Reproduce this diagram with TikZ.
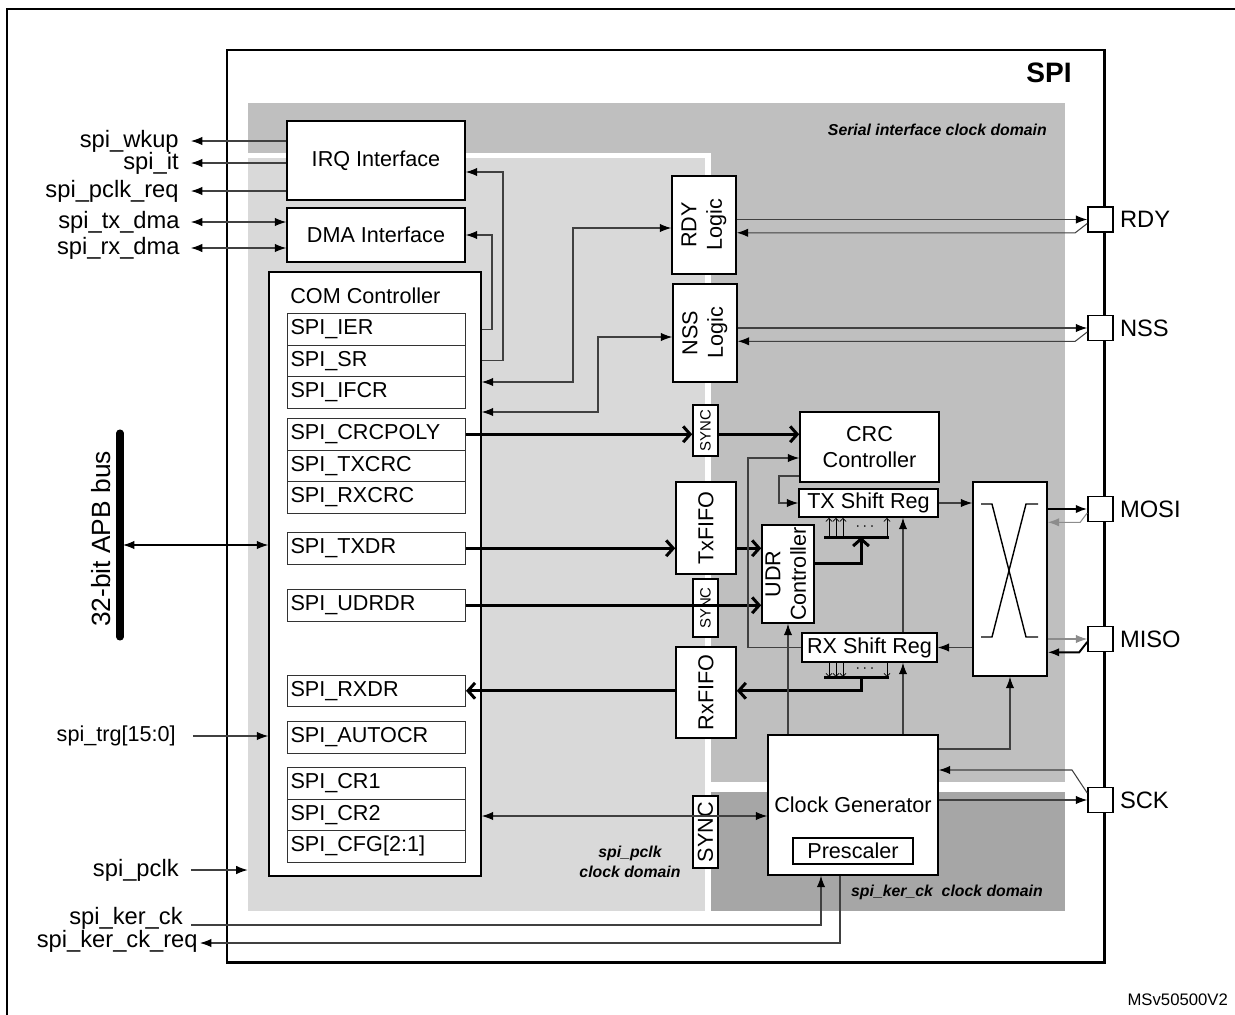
\documentclass[tikz,border=0pt]{standalone}
\usepackage{fontspec}
\setmainfont{Liberation Sans}
\usepackage{xcolor}
\definecolor{serialgray}{gray}{0.75}
\definecolor{pclkgray}{gray}{0.85}
\definecolor{kergray}{gray}{0.65}
\definecolor{wiregray}{gray}{0.25}
\definecolor{palewire}{gray}{0.55}
\usepackage{graphicx}
\usepackage{tikz}
\usetikzlibrary{positioning, calc, fit, arrows.meta}
\newcommand{\blkfont}{\fontsize{12.3}{14.5}\selectfont}
\newcommand{\sigfont}{\fontsize{13.5}{15}\selectfont}
\newcommand{\domfont}{\fontsize{9}{11}\selectfont\bfseries\itshape}
\newcommand{\vtext}[1]{\rotatebox{90}{\begin{tabular}{@{}c@{}}#1\end{tabular}}}
\tikzstyle{block}=[rectangle, draw=black, fill=white, line width=0.9pt, inner sep=0pt]
\tikzstyle{blabel}=[font=\blkfont, align=center, inner sep=0pt]
\tikzstyle{register}=[rectangle, draw=black!80, fill=white, line width=0.6pt, anchor=north west, text width=3.44cm, inner xsep=0.06cm, inner ysep=0pt, minimum height=0.63cm, font=\blkfont]
\tikzstyle{padbox}=[rectangle, draw=black, fill=white, line width=0.9pt, minimum size=0.5cm, inner sep=0pt, label distance=4pt]
\tikzstyle{signal}=[font=\sigfont, anchor=east, inner sep=0pt]
\tikzstyle{wire}=[line width=0.6pt, draw=wiregray, -{Latex[length=6.5pt,width=4.8pt,color=black]}]
\tikzstyle{wire2}=[line width=0.6pt, draw=wiregray, {Latex[length=6.5pt,width=4.8pt,color=black]}-{Latex[length=6.5pt,width=4.8pt,color=black]}]
\tikzstyle{palearrow}=[line width=0.6pt, draw=palewire, -{Latex[length=6.5pt,width=4.8pt]}]
\tikzstyle{datapath}=[line width=1.7pt, -{Straight Barb[length=4pt,width=9pt]}]
\tikzstyle{bitarrow}=[line width=0.4pt, -{Straight Barb[length=1.8pt,width=3.5pt]}]
\tikzset{blocktext/.style={label={[blabel]center:{#1}}},
	synctext/.style={label={[blabel, font=\fontsize{8.5}{10}\selectfont]center:{\rotatebox{90}{#1}}}}}

\begin{document}
\begin{tikzpicture}[x=0.02cm, y=-0.02cm]
	\useasboundingbox (0,0) rectangle (1235,1015);

	\draw[line width=0.9pt] (7,1015) -- (7,9) -- (1235,9);
	\draw[line width=1.7pt] (227,50) rectangle (1104,962);

	% clock domains
	\node[fit={(248,103) (1065,782)}, fill=serialgray, inner sep=0pt] (serialdom) {};
	\node[fit={(711,792) (1065,911)}, fill=kergray, inner sep=0pt] (kerdom) {};
	\fill[white] (248,153) rectangle (711,911);
	\node[fit={(248,158) (705,911)}, fill=pclkgray, inner sep=0pt] (pclkdom) {};

	\node[font=\fontsize{16}{18}\selectfont\bfseries, anchor=east] (spilbl) at (1078,73) {SPI};
	\node[font=\domfont, anchor=east] (seriallbl) at (1053,130) {Serial interface clock domain};
	\node[font=\domfont, align=center] (pclklbl) at (630,862) {spi\_pclk\\clock domain};
	\node[font=\domfont, anchor=east] (kerlbl) at (1049,892) {spi\_ker\_ck\ \ clock domain};

	% blocks
	\node[block, fit={(287,121) (465,200)}, blocktext={IRQ Interface}] (irq) {};
	\node[block, fit={(287,208) (465,262)}, blocktext={DMA Interface}] (dma) {};
	\node[block, fit={(269,272) (481,876)}] (com) {};
	\node[font=\blkfont, anchor=west, inner sep=0pt] (comlbl) at (290,296) {COM Controller};
	\foreach \nm/\txt/\ty in {ier/SPI\_IER/313, sr/SPI\_SR/344.5, ifcr/SPI\_IFCR/376,
		crcpoly/SPI\_CRCPOLY/418, txcrc/SPI\_TXCRC/449.5, rxcrc/SPI\_RXCRC/481,
		txdr/SPI\_TXDR/532, udrdr/SPI\_UDRDR/589, rxdr/SPI\_RXDR/674.5, autocr/SPI\_AUTOCR/721,
		cr1/SPI\_CR1/767, cr2/SPI\_CR2/798.5, cfg/SPI\_CFG[2:1]/830}
		\node[register] (\nm) at (287,\ty) {\txt};

	\node[block, fit={(672,176) (736,274)}, blocktext={\vtext{RDY\\Logic}}] (rdy) {};
	\node[block, fit={(673,284) (737,382)}, blocktext={\vtext{NSS\\Logic}}] (nss) {};
	\node[block, fit={(693,405) (718,456)}, synctext=SYNC] (synccrc) {};
	\node[block, fit={(800,412) (939,482)}, blocktext={CRC\\Controller}] (crc) {};
	\node[block, fit={(799,489) (938,517)}, blocktext={TX Shift Reg}] (txsr) {};
	\node[block, fit={(676,482) (736,574)}, blocktext={\rotatebox{90}{TxFIFO}}] (txfifo) {};
	\node[block, fit={(693,579) (718,637)}, synctext=SYNC] (syncudr) {};
	\node[block, fit={(762,525) (814,623)}, blocktext={\vtext{UDR\\Controller}}] (udr) {};
	\node[block, fit={(676,647) (736,738)}, blocktext={\rotatebox{90}{RxFIFO}}] (rxfifo) {};
	\node[block, fit={(802,633) (937,662)}, blocktext={RX Shift Reg}] (rxsr) {};
	\node[block, fit={(973,482) (1047,676)}] (xbar) {};
	\node[block, fit={(768,735) (938,875)}] (clk) {};
	\node[blabel] (clklbl) at (853,805) {Clock Generator};
	\node[block, fit={(793,838) (913,864)}, blocktext={Prescaler}] (presc) {};
	\node[block, fit={(693,796) (718,868)}, blocktext={\rotatebox{90}{SYNC}}] (syncclk) {};

	\draw[line width=0.8pt] (981,504) -- (992,504) -- (1026,637) -- (1038,637);
	\draw[line width=0.8pt] (1038,504) -- (1026,504) -- (992,637) -- (981,637);

	% interrupt and dma signals
	\foreach \nm/\txt/\sy in {wkup/spi\_wkup/141, it/spi\_it/163, pclkreq/spi\_pclk\_req/191}{
		\node[signal] (\nm) at (179,\sy) {\txt};
		\draw[wire, shorten >=6.8pt] (irq.west |- \nm) -- (\nm.east);
	}
	\foreach \nm/\txt/\sy in {txdma/spi\_tx\_dma/222, rxdma/spi\_rx\_dma/248}{
		\node[signal] (\nm) at (180,\sy) {\txt};
		\draw[wire2, shorten >=6.2pt] (dma.west |- \nm) -- (\nm.east);
	}
	\draw[wire] (com.east |- sr) -| (503,172) -- (irq.east |- 0,172);
	\draw[wire] (com.east |- ier) -| (492,235) -- (dma.east);
	\draw[wire2] (com.east |- 0,382) -| (573,228) -- (rdy.west |- 0,228);
	\draw[wire2] (com.east |- 0,412) -| (598,337) -- (nss.west |- 0,337);

	% data paths
	\draw[datapath] (crcpoly.east) -- (synccrc.west |- crcpoly);
	\draw[datapath] (synccrc.east |- crcpoly) -- (crc.west |- crcpoly);
	\draw[datapath] (txdr.east) -- (txfifo.west |- txdr);
	\draw[datapath] (txfifo.east |- txdr) -- (udr.west |- txdr);
	\draw[datapath] (udrdr.east) -- (udr.west |- udrdr);
	\draw[datapath] (rxfifo.west |- rxdr) -- (rxdr.east);

	\coordinate (txbus) at (861,537);
	\coordinate (rxbus) at (861,677);
	\draw[line width=1.7pt] (824,537) -- (889,537);
	\draw[line width=1.7pt] (824,677) -- (889,677);
	\foreach \bx in {829,836,843,887}{
		\draw[bitarrow] (\bx,537) -- (txsr.south -| \bx,0);
		\draw[bitarrow] (rxsr.south -| \bx,0) -- (\bx,677);
	}
	\node[inner sep=0pt, font=\small] (txdots) at (865,527) {$\cdots$};
	\node[inner sep=0pt, font=\small] (rxdots) at (865,669) {$\cdots$};
	\draw[datapath] (udr.east |- 0,563) -| (txbus);
	\draw[datapath] (rxbus) |- (rxfifo.east |- rxdr);

	\draw[wire] (rxsr.west) -| (748,458) -- (crc.west |- 0,458);
	\draw[wire] (crc.west |- 0,476) -- (779,476) |- (txsr.west);
	\draw[wire] (txsr.east) -- (xbar.west |- txsr.east);
	\draw[wire] (xbar.west |- rxsr.east) -- (rxsr.east);

	% clock generator
	\draw[wire] (clk.north -| udr.south) -- (udr.south);
	\draw[wire] (clk.north -| 903,0) -- (rxsr.south -| 903,0);
	\draw[wire] (rxsr.north -| 903,0) -- (txsr.south -| 903,0);
	\draw[wire] (clk.east |- 0,749) -| (xbar.south);
	\draw[wire2] (com.east |- 0,816) -- (clk.west |- 0,816);

	% pads
	\foreach \nm/\lbl/\py in {rdy/RDY/219.5, nss/NSS/328, mosi/MOSI/509, miso/MISO/639, sck/SCK/800}
		\node[padbox, label={[font=\sigfont]east:\lbl}] (\nm-pad) at (1100.5,\py) {};
	\foreach \nm in {rdy,nss}{
		\draw[wire] (\nm.east |- \nm-pad) -- (\nm-pad.west);
		\draw[wire] ($(\nm-pad.west)+(0,4)$) -- ($(\nm-pad.south west)+(-12,0)$) -- (\nm.east |- \nm-pad.south);
	}
	\draw[wire, draw=black, line width=1.1pt] (xbar.east |- mosi-pad) -- (mosi-pad.west);
	\draw[palearrow] ($(mosi-pad.west)+(0,4)$) -- ($(mosi-pad.south west)+(-7,0)$) -- (xbar.east |- mosi-pad.south);
	\draw[palearrow] (xbar.east |- miso-pad) -- (miso-pad.west);
	\draw[wire, draw=black, line width=1.1pt] ($(miso-pad.west)+(0,3)$) -- ($(miso-pad.south west)+(-8,0)$) -- (xbar.east |- miso-pad.south);
	\draw[wire] ($(sck-pad.west)+(0,-7)$) -- (1072,770) -- (clk.east |- 0,770);
	\draw[wire] (clk.east |- sck-pad) -- (sck-pad.west);

	% apb bus and inputs
	\draw[line width=4pt, line cap=round] (120,433) -- (120,637);
	\coordinate (apb) at (120,545);
	\node[font=\fontsize{15}{17}\selectfont, rotate=90] (apblbl) at (101,539) {32-bit APB bus};
	\draw[wire2, draw=black] ($(apb)+(3,0)$) -- (com.west |- apb);
	\node[signal, font=\blkfont] (trg) at (176,736) {spi\_trg[15:0]};
	\draw[wire, shorten <=9.6pt] (trg.east) -- (com.west |- trg);
	\node[signal] (pclk) at (179,870) {spi\_pclk};
	\draw[wire, shorten <=6.8pt] (pclk.east) -- (pclkdom.west |- pclk);
	\node[signal] (kerck) at (183,918) {spi\_ker\_ck};
	\draw[wire] ($(kerck.east)+(8,7)$) -| ($(clk.south)+(-32,0)$);
	\node[signal] (kerreq) at (198,941) {spi\_ker\_ck\_req};
	\draw[wire] ($(clk.south)+(-13,0)$) |- ($(kerreq.east)+(2,2)$);

	\node[font=\fontsize{9.5}{11}\selectfont, anchor=east] (msv) at (1234,1000) {MSv50500V2};
\end{tikzpicture}
\end{document}
